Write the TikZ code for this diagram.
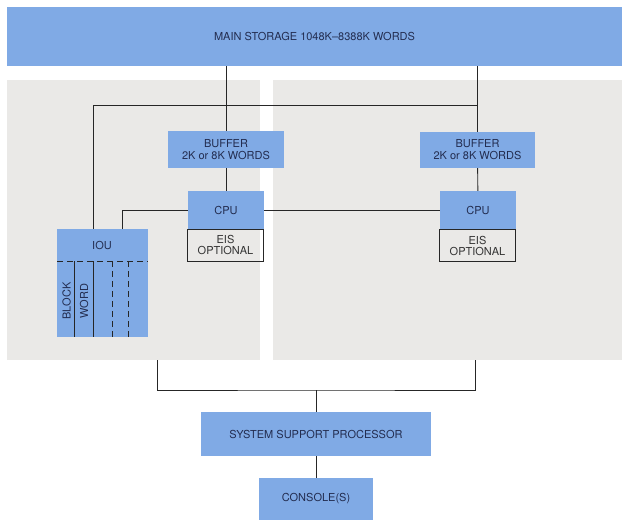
\documentclass[tikz,border=0pt]{standalone}
\usepackage{fontspec}
\setmainfont{TeX Gyre Heros}
\definecolor{unitblue}{RGB}{128,170,229}
\definecolor{panelgray}{RGB}{234,233,231}
\definecolor{inkblue}{RGB}{35,45,80}

\begin{document}
\begin{tikzpicture}[x=1pt,y=-1pt,
  unit/.style={fill=unitblue,text=inkblue,inner sep=0pt,align=center,
               font=\fontsize{11}{12}\selectfont},
  eisbox/.style={draw=black!85,line width=0.9pt,text=black!80,inner sep=0pt,align=center,
               minimum width=76pt,minimum height=32pt,font=\fontsize{11}{11}\selectfont},
  wire/.style={draw=black!85,line width=0.9pt},
  slot/.style={wire,dash pattern=on 6pt off 4pt}]
\useasboundingbox (0,0) rectangle (622,520);
%% panels
\fill[panelgray] (7,80) rectangle (260,360);
\fill[panelgray] (273,80) rectangle (622,360);
%% main storage
\node[unit,minimum width=615pt,minimum height=59pt] (store) at (314.5,36.5) {MAIN STORAGE 1048K--8388K WORDS};
%% left processor
\node[unit,minimum width=116pt,minimum height=37pt] (buf1) at (226,149.5) {BUFFER\\2K or 8K WORDS};
\node[eisbox] (eis1) at (225.5,245) {EIS\\OPTIONAL};
\node[unit,minimum width=76pt,minimum height=38pt] (cpu1) at (226,210) {CPU};
%% right processor
\node[unit,minimum width=115pt,minimum height=36pt] (buf2) at (477.5,150) {BUFFER\\2K or 8K WORDS};
\node[eisbox] (eis2) at (477.5,245.5) {EIS\\OPTIONAL};
\node[unit,minimum width=76pt,minimum height=38pt] (cpu2) at (478,210) {CPU};
%% iou
\node[unit,minimum width=91pt,minimum height=108pt] (iou) at (102.5,283) {};
\node[text=inkblue,font=\fontsize{11}{12}\selectfont] (ioulbl) at (102,245) {IOU};
\draw[slot] (57,261) -- (148,261);
\foreach \x in {74,93} \draw[wire] (\x,261) -- (\x,337);
\foreach \x in {112,128} \draw[slot] (\x,261) -- (\x,337);
\node[rotate=90,text=inkblue,font=\fontsize{11}{12}\selectfont] (blocklbl) at (66.5,301) {BLOCK};
\node[rotate=90,text=inkblue,font=\fontsize{11}{12}\selectfont] (wordlbl) at (84,301) {WORD};
%% ssp and console
\node[unit,minimum width=230pt,minimum height=44pt] (ssp) at (316,434) {SYSTEM SUPPORT PROCESSOR};
\node[unit,minimum width=114pt,minimum height=42pt] (con) at (316,499) {CONSOLE(S)};
%% wires
\draw[wire] (store.south -| buf1.north) -- (buf1.north);
\draw[wire] (buf1) -- (cpu1);
\draw[wire] (store.south -| buf2.north) -- (buf2.north);
\draw[wire] (buf2) -- (cpu2);
\coordinate (tap) at (93,105);
\draw[wire] (tap -| buf2.north) -- (tap) -- (tap |- iou.north);
\draw[wire] ([xshift=19.5pt]iou.north) |- (cpu1.west);
\draw[wire] (cpu1) -- (cpu2);
\coordinate (bl) at (157,360);
\coordinate (br) at (475,360);
\coordinate (bus) at (316,390);
\draw[wire] (bl) |- (bus) -| (br);
\draw[wire] (bus) -- (ssp);
\draw[wire] (ssp) -- (con);
\end{tikzpicture}
\end{document}
